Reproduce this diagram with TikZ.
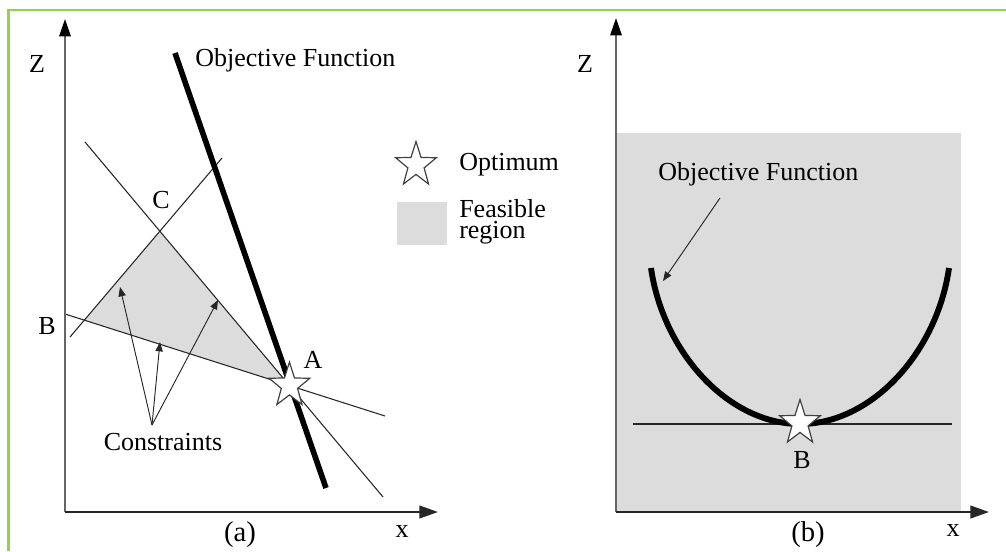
\documentclass[tikz,border=0pt]{standalone}
\usepackage{fontspec}
\setmainfont{Liberation Serif}
\usetikzlibrary{arrows.meta,shapes.geometric}
\definecolor{bordergreen}{RGB}{146,208,80}
\definecolor{feasgray}{RGB}{220,220,220}
\begin{document}
\begin{tikzpicture}[x=0.75pt,y=-0.75pt,
  lbl/.style={inner sep=0pt, font=\fontsize{19.5}{22}\selectfont},
  caption/.style={inner sep=0pt, font=\fontsize{21.5}{24}\selectfont},
  vaxis/.style={draw=black!60, line width=1.5pt, -{Triangle[length=13pt,width=8.5pt,fill=black,color=black]}},
  haxis/.style={draw=black!85, line width=1.6pt, -{Triangle[length=14pt,width=9.5pt]}},
  cline/.style={draw=black!85, line width=0.8pt},
  objline/.style={draw=black, line width=4.2pt},
  pointer/.style={draw=black!85, line width=0.7pt, -{Triangle[length=7pt,width=5.5pt]}},
  optstar/.style={star, star points=5, star point ratio=2.5, draw=black!75, fill=white,
    line width=0.9pt, minimum size=32pt, inner sep=0pt, yscale=1.1},
  feas/.style={fill=feasgray, draw=none}]
\useasboundingbox (0,0) rectangle (1006,551);
\draw[bordergreen, line width=1.6pt] (8.5,551) -- (8.5,10) -- (1006,10);

% ---------------- panel (a) ----------------
\coordinate (L1s) at (85,142);  \coordinate (L1e) at (383,497);
\coordinate (L2s) at (70,337);  \coordinate (L2e) at (222,158);
\coordinate (L3s) at (65,314);  \coordinate (L3e) at (385,416);
\coordinate (C) at (intersection of L1s--L1e and L2s--L2e);
\coordinate (P) at (intersection of L2s--L2e and L3s--L3e);
\coordinate (A) at (intersection of L1s--L1e and L3s--L3e);
\fill[feas] (C) -- (P) -- (A) -- cycle;
\draw[cline] (L1s) -- (L1e);
\draw[cline] (L2s) -- (L2e);
\draw[cline] (L3s) -- (L3e);
\coordinate (O1s) at (175,53); \coordinate (O1e) at (326,488);
\draw[objline] (O1s) -- (O1e);

\coordinate (ao) at (65,512);
\coordinate (azt) at (65,19);
\coordinate (axt) at (438,512);
\draw[vaxis] (ao) -- (azt);
\draw[haxis] (ao) -- (axt);

\node[optstar] (starA) at (A) {};

\node[lbl, anchor=base] (za) at (37,72) {Z};
\node[lbl, anchor=base] (xa) at (402,537) {x};
\node[lbl, anchor=base west] (objA) at (195,66) {Objective Function};
\node[lbl, anchor=base] (labC) at (161,208) {C};
\node[lbl, anchor=base] (labB) at (47,334) {B};
\node[lbl, anchor=base] (labA) at (313,368) {A};
\node[lbl, anchor=base] (cons) at (163,450) {Constraints};
\node[caption, anchor=base] (capa) at (240,541) {(a)};

\coordinate (capex) at (152,425);
\coordinate (t1) at (120,287);
\coordinate (t2) at (160,342);
\coordinate (t3) at (218,300);
\draw[pointer] (capex) -- (t1);
\draw[pointer] (capex) -- (t2);
\draw[pointer] (capex) -- (t3);

% legend
\node[optstar] (legstar) at (416,165) {};
\node[lbl, anchor=base west] (optlab) at (459,170) {Optimum};
\node[feas, minimum width=37.5pt, minimum height=32.25pt, inner sep=0pt, anchor=north west] (legsq) at (397,202) {};
\node[inner sep=0pt, font=\fontsize{19.5}{15.75}\selectfont, align=left, anchor=base west] (feaslab) at (459,238) {Feasible\\region};

% ---------------- panel (b) ----------------
\fill[feas] (616,133) rectangle (961,512);
\coordinate (bo) at (616,512);
\coordinate (bzt) at (616,18);
\coordinate (bxt) at (989,512);
\draw[vaxis] (bo) -- (bzt);
\draw[haxis] (bo) -- (bxt);

\coordinate (hl) at (633,424); \coordinate (hr) at (952,424);
\draw[cline] (hl) -- (hr);
\coordinate (Ul) at (651,268); \coordinate (Ub) at (800,424); \coordinate (Ur) at (949,268);
\draw[objline, line width=4.4pt] (Ul) .. controls (663,352) and (728,424) .. (Ub)
  .. controls (872,424) and (937,352) .. (Ur);
\node[optstar] (starB) at (800,423) {};

\node[lbl, anchor=base] (zb) at (585,72) {Z};
\node[lbl, anchor=base] (xb) at (953,536) {x};
\node[lbl, anchor=base] (labB2) at (802,468) {B};
\node[lbl, anchor=base west] (objB) at (658,180) {Objective Function};
\node[caption, anchor=base] (capb) at (808,541) {(b)};
\coordinate (pbs) at (720,198);
\coordinate (pbe) at (663,281);
\draw[pointer] (pbs) -- (pbe);
\end{tikzpicture}
\end{document}
